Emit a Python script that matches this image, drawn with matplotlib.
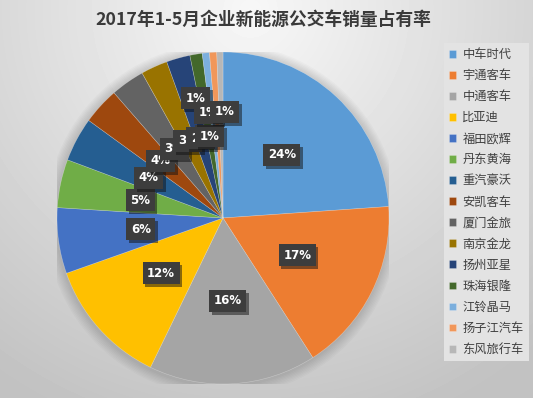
import numpy as np
import matplotlib
matplotlib.use("Agg")
import matplotlib.pyplot as plt
from matplotlib.patches import Circle
import matplotlib.patheffects as pe

plt.rcParams['font.family'] = ['Noto Sans CJK SC', 'DejaVu Sans']

# data (percent share, clockwise from 12 o'clock)
companies = ['中车时代', '宇通客车', '中通客车', '比亚迪', '福田欧辉', '丹东黄海', '重汽豪沃',
             '安凯客车', '厦门金旅', '南京金龙', '扬州亚星', '珠海银隆', '江铃晶马', '扬子江汽车',
             '东风旅行车']
shares = [23.9, 17.0, 16.3, 12.4, 6.4, 4.7, 4.3, 3.6, 3.3, 2.6, 2.3, 1.2, 0.7, 0.7, 0.6]
title = '2017年1-5月企业新能源公交车销量占有率'

colors = ['#5B9BD5', '#ED7D31', '#A5A5A5', '#FFC000', '#4472C4', '#70AD47', '#255E91',
          '#9E480E', '#636363', '#997300', '#264478', '#43682B', '#7CAFDD', '#F1975A',
          '#B7B7B7']

# label placement: radius (fraction of pie radius) and angle nudge in degrees
lab_r = [0.52, 0.5, 0.5, 0.5, 0.5, 0.51, 0.51, 0.51, 0.51, 0.51, 0.5, 0.5, 0.74, 0.64, 0.64]
lab_da = [0, 0, 0, 0, 0, 0, 0, 0, 0, 0, 0, 0, 7, 4.6, -2]

W, H = 533, 398
fig = plt.figure(figsize=(W / 100, H / 100), dpi=100)

# background gradient
bg = fig.add_axes([0, 0, 1, 1])
yy, xx = np.mgrid[0:H, 0:W]
d = np.sqrt(((xx - 250) / 420.0) ** 2 + ((yy - 10) / 420.0) ** 2)
img = np.clip(0.97 - 0.2 * d, 0.76, 0.97)
bg.imshow(img, cmap='gray', vmin=0, vmax=1, extent=[0, W, H, 0], aspect='auto')
bg.set_xlim(0, W)
bg.set_ylim(H, 0)
bg.axis('off')

# pie axes positioned in pixels
cx, cy, R = 223, 218, 166
ax = fig.add_axes([(cx - R) / W, (H - cy - R) / H, 2 * R / W, 2 * R / H])
ax.axis('off')

# soft shadow round the pie
for k in range(8):
    ax.add_patch(Circle((-0.004, -0.01), 1.0 + 0.008 * (k + 1), color='black',
                        alpha=0.018, lw=0, zorder=0))

wedges, _ = ax.pie(shares, colors=colors, startangle=90, counterclock=False,
                   radius=1.0, wedgeprops=dict(linewidth=0.4, edgecolor=(1, 1, 1, 0.35)))
ax.set_xlim(-1, 1)
ax.set_ylim(-1, 1)
ax.set_aspect('equal')

total = float(sum(shares))
cum = np.cumsum([0] + shares[:-1])
for i, v in enumerate(shares):
    mid = (cum[i] + v / 2) / total * 360
    th = np.deg2rad(90 - mid + lab_da[i])
    x, y = lab_r[i] * np.cos(th), lab_r[i] * np.sin(th)
    t = ax.text(x, y, '%.0f%%' % (v / total * 100), ha='center', va='center',
                color='white', fontsize=8.5, fontweight='bold', family='DejaVu Sans',
                bbox=dict(boxstyle='square,pad=0.38', fc='#3d3d3d', ec='none'), zorder=5)
    t.get_bbox_patch().set_path_effects([pe.SimplePatchShadow(offset=(2, -2), alpha=0.5),
                                         pe.Normal()])

fig.text(263 / W, 1 - 20 / H, title, ha='center', va='center', fontsize=12.8,
         fontweight='bold', color='#3a3a3a')

leg = fig.legend(wedges, companies, loc='upper left', bbox_to_anchor=(438 / W, 1 - 37 / H),
                 frameon=True, fontsize=8.8, handlelength=0.6, handleheight=0.6,
                 handletextpad=0.5, labelspacing=0.66, borderpad=0.4, fancybox=False)
leg.get_frame().set_facecolor('#e3e3e3')
leg.get_frame().set_edgecolor('none')
leg.get_frame().set_alpha(1)
for txt in leg.get_texts():
    txt.set_color('#404040')

fig.savefig('out.png', dpi=100)
